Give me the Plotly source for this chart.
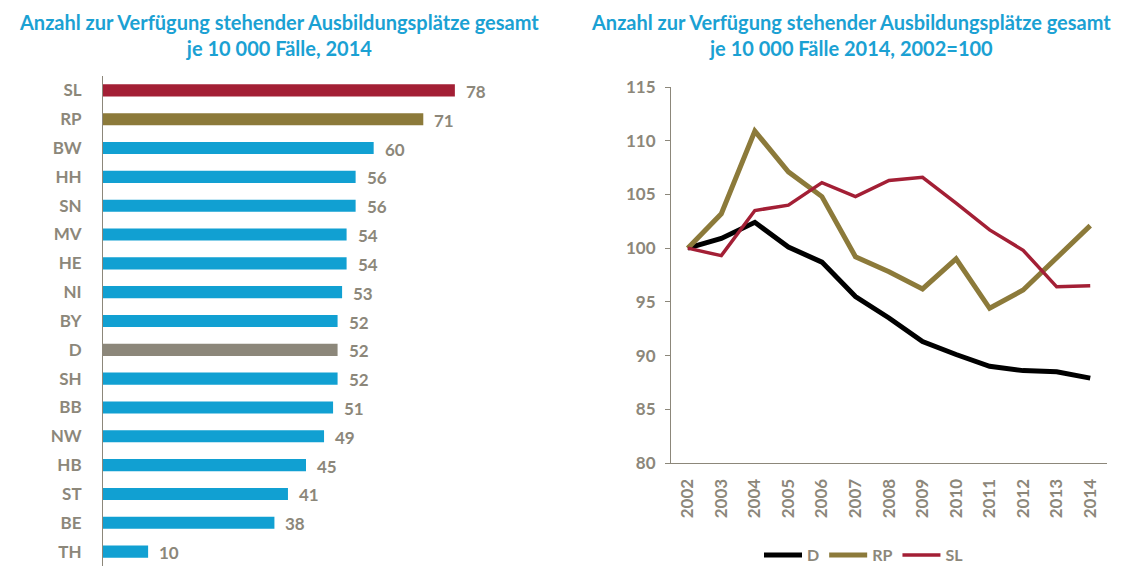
import plotly.graph_objects as go

# ---- data ----
states = ["SL", "RP", "BW", "HH", "SN", "MV", "HE", "NI", "BY", "D", "SH", "BB", "NW", "HB", "ST", "BE", "TH"]
values_2014 = [78, 71, 60, 56, 56, 54, 54, 53, 52, 52, 52, 51, 49, 45, 41, 38, 10]

years = ["2002", "2003", "2004", "2005", "2006", "2007", "2008", "2009", "2010", "2011", "2012", "2013", "2014"]
idx_D = [100, 100.9, 102.4, 100.1, 98.7, 95.5, 93.5, 91.3, 90.1, 89.0, 88.6, 88.5, 87.9]
idx_RP = [100, 103.2, 110.9, 107.1, 104.8, 99.2, 97.8, 96.2, 99.0, 94.4, 96.1, 99.1, 102.1]
idx_SL = [100, 99.3, 103.5, 104.0, 106.1, 104.8, 106.3, 106.6, 104.2, 101.7, 99.8, 96.4, 96.5]

y_ticks = [80, 85, 90, 95, 100, 105, 110, 115]

# ---- styles ----
BLUE = "#11a0d2"
RED = "#a31f35"
OLIVE = "#8c7a3a"
GREY = "#8c877a"
TITLE = "#1ba1d3"
FONT = "Lato"

special = {"SL": RED, "RP": OLIVE, "D": GREY}
bar_colors = [special.get(s, BLUE) for s in states]

# page body has an 8px margin: figure is drawn 8px smaller and offset
OFF = 8
W, H = 1122 - OFF, 566 - OFF


def px(x):
    return (x - OFF) / W


def py(y):
    return 1 - (y - OFF) / H


fig = go.Figure()

fig.add_trace(go.Bar(
    x=values_2014, y=states, orientation="h",
    marker=dict(color=bar_colors, line=dict(width=0)),
    width=0.42, showlegend=False, xaxis="x", yaxis="y",
    hoverinfo="x+y",
))

for s, v in zip(states, values_2014):
    fig.add_annotation(x=v, y=s, xref="x", yref="y", text=str(v), showarrow=False,
                       xanchor="left", xshift=9, yshift=-1,
                       font=dict(family=FONT, size=17, color=GREY, weight="bold"))

line_specs = [("D", idx_D, "#000000", 5), ("RP", idx_RP, OLIVE, 5), ("SL", idx_SL, RED, 3.5)]
for name, vals, col, w in line_specs:
    fig.add_trace(go.Scatter(x=years, y=vals, mode="lines", name=name,
                             line=dict(color=col, width=w), xaxis="x2", yaxis="y2"))

tick_font = dict(family=FONT, size=17, color=GREY, weight="bold")
fig.update_layout(
    width=W, height=H,
    margin=dict(l=0, r=0, t=0, b=0, autoexpand=False),
    paper_bgcolor="white", plot_bgcolor="white",
    font=dict(family=FONT, color=GREY, size=15),
    xaxis=dict(domain=[px(103), px(509)], range=[0, 90], visible=False, fixedrange=True, automargin=False),
    yaxis=dict(domain=[0, py(76)], autorange="reversed", showline=True, linecolor=GREY, linewidth=1,
               showgrid=False, ticks="", ticklabelstandoff=17, automargin=False,
               tickfont=tick_font, anchor="x"),
    xaxis2=dict(domain=[px(671), px(1107)], type="category", range=[-0.5, 12.5], showline=True,
                linecolor=GREY, linewidth=1, showgrid=False, ticks="", tickangle=-90,
                ticklabelstandoff=8, automargin=False,
                tickfont=tick_font, anchor="y2"),
    yaxis2=dict(domain=[py(463), py(87)], range=[80, 115], tickvals=y_ticks,
                showline=True, linecolor=GREY, linewidth=1, showgrid=False, ticks="outside",
                ticklen=5, tickcolor=GREY, ticklabelstandoff=6, automargin=False,
                tickfont=tick_font, anchor="x2"),
    legend=dict(orientation="h", x=px(864), xanchor="center", y=py(555), yanchor="middle",
                font=dict(family=FONT, size=16, color=GREY, weight="bold"),
                itemwidth=38, tracegroupgap=0, bgcolor="rgba(0,0,0,0)"),
)

title_font = dict(family=FONT, size=20, color=TITLE, weight="bold")
fig.add_annotation(x=px(279), y=py(8), xref="paper", yref="paper", showarrow=False,
                   xanchor="center", yanchor="top", align="center",
                   text="Anzahl zur Verfügung stehender Ausbildungsplätze gesamt<br>je 10 000 Fälle, 2014",
                   font=title_font)
fig.add_annotation(x=px(851), y=py(8), xref="paper", yref="paper", showarrow=False,
                   xanchor="center", yanchor="top", align="center",
                   text="Anzahl zur Verfügung stehender Ausbildungsplätze gesamt<br>je 10 000 Fälle 2014, 2002=100",
                   font=title_font)

fig.write_html("out.html")
